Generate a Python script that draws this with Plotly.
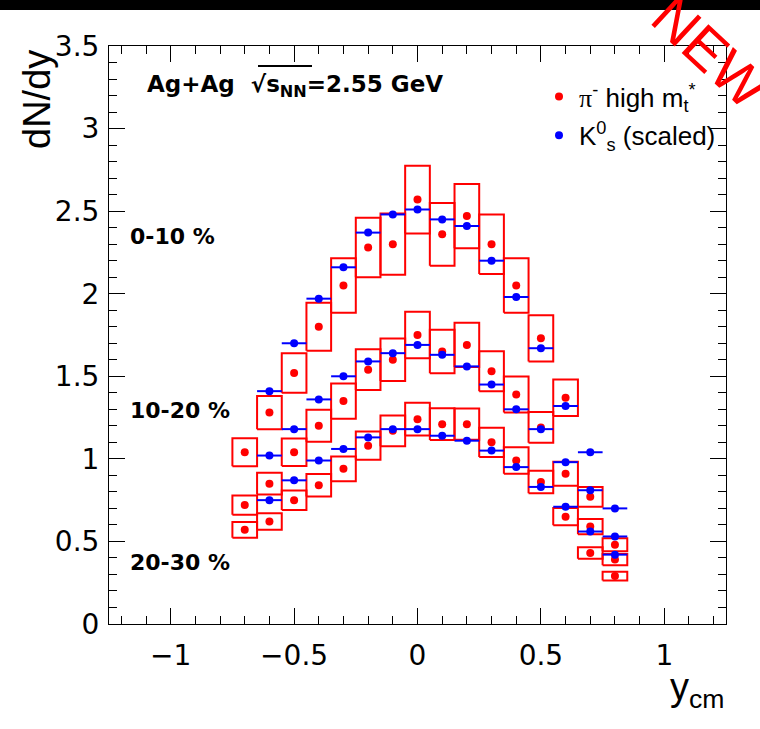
import plotly.graph_objects as go

# rapidity bin centres (bin width 0.1)
y_pi = [-0.7, -0.6, -0.5, -0.4, -0.3, -0.2, -0.1, 0.0, 0.1, 0.2, 0.3, 0.4, 0.5, 0.6, 0.7, 0.8]
y_k0 = [-0.6, -0.5, -0.4, -0.3, -0.2, -0.1, 0.0, 0.1, 0.2, 0.3, 0.4, 0.5, 0.6, 0.7, 0.8]
bin_half = 0.05

# pi- (high m_t) dN/dy with systematic uncertainties
pi_0_10 = [1.04, 1.28, 1.52, 1.80, 2.05, 2.28, 2.30, 2.57, 2.36, 2.47, 2.30, 2.05, 1.73, 1.37, 0.77, 0.48]
pi_0_10_sys = [0.085, 0.100, 0.120, 0.145, 0.165, 0.180, 0.185, 0.205, 0.190, 0.195, 0.180, 0.165, 0.140, 0.110, 0.060, 0.040]
pi_10_20 = [0.72, 0.85, 1.04, 1.20, 1.35, 1.54, 1.60, 1.75, 1.65, 1.69, 1.53, 1.39, 1.19, 0.91, 0.59, 0.39]
pi_10_20_sys = [0.058, 0.066, 0.083, 0.097, 0.107, 0.123, 0.129, 0.141, 0.132, 0.134, 0.121, 0.109, 0.093, 0.073, 0.046, 0.034]
pi_20_30 = [0.57, 0.62, 0.75, 0.84, 0.94, 1.08, 1.17, 1.24, 1.21, 1.21, 1.10, 0.99, 0.86, 0.65, 0.43, 0.29]
pi_20_30_sys = [0.048, 0.050, 0.059, 0.068, 0.075, 0.086, 0.093, 0.099, 0.096, 0.095, 0.089, 0.080, 0.068, 0.052, 0.035, 0.026]

# K0_s dN/dy (scaled)
k0_0_10 = [1.41, 1.70, 1.97, 2.16, 2.37, 2.48, 2.51, 2.45, 2.41, 2.20, 1.98, 1.67, 1.32, 1.04, 0.70]
k0_10_20 = [1.02, 1.18, 1.36, 1.50, 1.59, 1.64, 1.69, 1.63, 1.56, 1.45, 1.30, 1.18, 0.98, 0.81, 0.53]
k0_20_30 = [0.75, 0.87, 0.99, 1.06, 1.13, 1.18, 1.18, 1.14, 1.11, 1.05, 0.95, 0.83, 0.71, 0.56, 0.42]

centrality_labels = ["0-10 %", "10-20 %", "20-30 %"]
x_ticks = [-1, -0.5, 0, 0.5, 1]
y_ticks = [0, 0.5, 1, 1.5, 2, 2.5, 3, 3.5]

RED = "#ff0000"
BLUE = "#0000ff"

# frame geometry in pixels (used for paper-coordinate annotations)
W, H = 760, 729
L, R, T, B = 109, 34, 46, 105
PW, PH = W - L - R, H - T - B


def px(x):
    return (x - L) / PW


def py(y):
    return (H - B - y) / PH


def sys_boxes(xs, vals, errs):
    bx, by = [], []
    for x, v, e in zip(xs, vals, errs):
        x0, x1 = x - bin_half, x + bin_half
        bx += [x0, x1, x1, x0, x0, None]
        by += [v - e, v - e, v + e, v + e, v - e, None]
    return bx, by


fig = go.Figure()

pi_sets = [(pi_0_10, pi_0_10_sys), (pi_10_20, pi_10_20_sys), (pi_20_30, pi_20_30_sys)]
k0_sets = [k0_0_10, k0_10_20, k0_20_30]

pi_name = ('<span style="font-family:Liberation Serif">π</span><sup>-</sup>'
           ' high m<sub>t</sub><sup>*</sup>')
k0_name = "K<sup>0</sup><sub>s</sub> (scaled)"

for i, (vals, errs) in enumerate(pi_sets):
    bx, by = sys_boxes(y_pi, vals, errs)
    fig.add_trace(go.Scatter(x=bx, y=by, mode="lines", line=dict(color=RED, width=2),
                             showlegend=False, hoverinfo="skip"))

for i, (vals, errs) in enumerate(pi_sets):
    fig.add_trace(go.Scatter(x=y_pi, y=vals, mode="markers",
                             marker=dict(color=RED, size=8, symbol="circle"),
                             name=pi_name, legendgroup="pi", showlegend=(i == 0),
                             legendrank=1))

for i, vals in enumerate(k0_sets):
    fig.add_trace(go.Scatter(x=y_k0, y=vals, mode="markers",
                             marker=dict(color=BLUE, size=8, symbol="circle"),
                             error_x=dict(type="constant", value=bin_half, color=BLUE,
                                          thickness=2, width=0),
                             name=k0_name, legendgroup="k0", showlegend=(i == 0),
                             legendrank=2))

tick_font = dict(family="DejaVu Sans", size=28, color="black")
axis_common = dict(showline=True, linecolor="black", linewidth=1, mirror="ticks",
                   ticks="inside", ticklen=16, tickcolor="black", tickwidth=1,
                   showgrid=False, zeroline=False, tickfont=tick_font)

fig.update_xaxes(range=[-1.25, 1.25], tickvals=x_ticks,
                 minor=dict(ticks="inside", ticklen=8, dtick=0.1, tick0=0,
                            tickcolor="black", showgrid=False),
                 ticklabelstandoff=6, **axis_common)
fig.update_yaxes(range=[0, 3.5], tickvals=y_ticks,
                 minor=dict(ticks="inside", ticklen=8, dtick=0.1, tick0=0,
                            tickcolor="black", showgrid=False),
                 ticklabelstandoff=3, **axis_common)

annotations = [
    dict(text="<b>Ag+Ag\u00a0\u00a0√s<sub>NN</sub>=2.55 GeV</b>", x=px(145), y=py(86),
         xanchor="left", yanchor="middle",
         font=dict(family="DejaVu Sans", size=23, color="black")),
    dict(text="dN/dy", textangle=-90, x=px(37), y=py(100), xanchor="center", yanchor="middle",
         font=dict(family="Liberation Sans", size=38, color="black")),
    dict(text="y<sub>cm</sub>", x=1.0, y=py(690), xanchor="right", yanchor="middle",
         font=dict(family="Liberation Sans", size=38, color="black")),
    dict(text="NEW", textangle=43, x=px(710), y=py(52), xanchor="center", yanchor="middle",
         font=dict(family="Liberation Sans", size=57, color=RED)),
]
for lab, ypix in zip(centrality_labels, [237, 410, 562]):
    annotations.append(dict(text="<b>" + lab + "</b>", x=px(128), y=py(ypix),
                            xanchor="left", yanchor="middle",
                            font=dict(family="DejaVu Sans", size=22, color="black")))
for a in annotations:
    a.update(xref="paper", yref="paper", showarrow=False)

shapes = [
    # top bar
    dict(type="rect", xref="paper", yref="paper", x0=px(-5), x1=px(W + 5),
         y0=py(10), y1=py(-5), fillcolor="black", line=dict(width=0), layer="above"),
    # square-root bar over s_NN
    dict(type="line", xref="paper", yref="paper", x0=px(258), x1=px(312),
         y0=py(66), y1=py(66), line=dict(color="black", width=2)),
]

fig.update_layout(
    width=W, height=H,
    margin=dict(l=L, r=R, t=T, b=B, pad=0),
    paper_bgcolor="white", plot_bgcolor="white",
    annotations=annotations, shapes=shapes,
    legend=dict(x=px(539), y=py(73), xanchor="left", yanchor="top",
                bgcolor="rgba(0,0,0,0)", borderwidth=0, tracegroupgap=2,
                font=dict(family="Liberation Sans", size=26, color="black")),
    showlegend=True,
)

fig.write_html("out.html")
